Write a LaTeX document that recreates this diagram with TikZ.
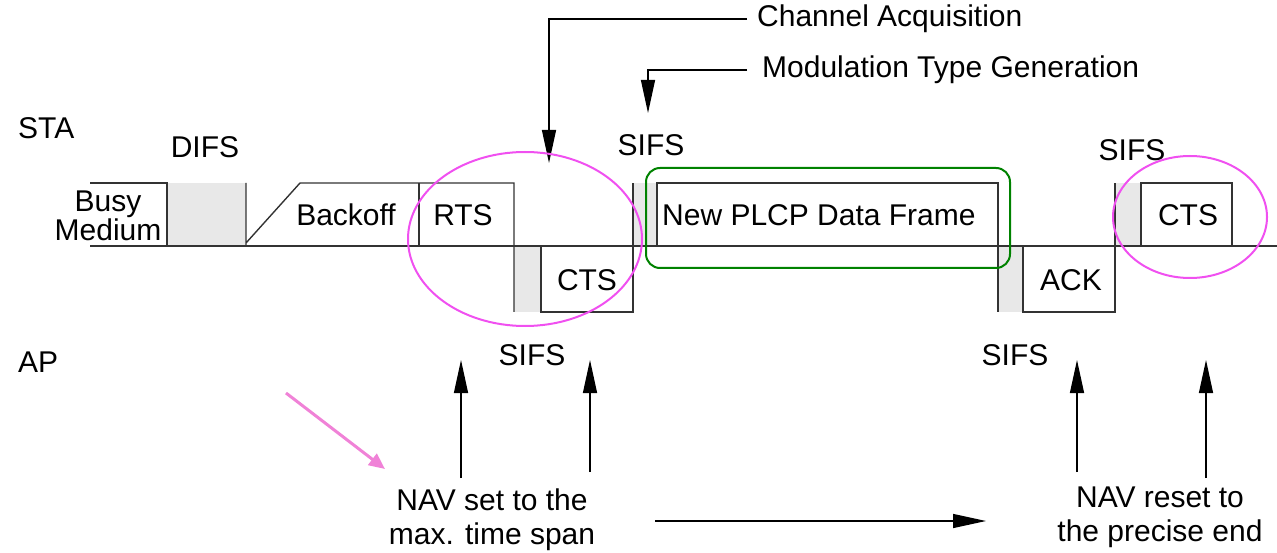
\documentclass[tikz,border=0pt]{standalone}
\usepackage{fontspec}
\setmainfont{Liberation Sans}
\usetikzlibrary{arrows.meta}
\definecolor{sifsgray}{RGB}{232,232,232}
\definecolor{ringpink}{RGB}{240,80,240}
\definecolor{ringgreen}{RGB}{0,130,0}
\definecolor{hintpink}{RGB}{240,130,215}
\tikzset{
    slot/.style={line width=1.4pt,black!80},
    sifsfill/.style={fill=sifsgray},
    lbl/.style={font=\fontsize{30}{34}\selectfont,inner sep=0pt},
    pointer/.style={line width=1.3pt,-{Triangle[length=33pt,width=14pt]}},
}
\begin{document}
\begin{tikzpicture}[x=1pt,y=-1pt]
                    \useasboundingbox (0,0) rectangle (1277,553);
                    \fill[sifsfill] (167,183) rectangle (246,246);
                    \fill[sifsfill] (514,246) rectangle (541,312);
                    \fill[sifsfill] (633,183) rectangle (657,246);
                    \fill[sifsfill] (998,246) rectangle (1023,312);
                    \fill[sifsfill] (1115,183) rectangle (1141,246);
                    \draw[slot] (90,246) -- (1277,246);
                    \draw[slot] (90,183) -- (167,183) -- (167,246);
                    \draw[slot] (246,183) -- (246,246) (246,243) -- (300,183) -- (514,183) -- (514,312);
                    \draw[slot] (419,183) -- (419,246);
                    \draw[slot] (541,246) -- (541,312) -- (633,312) -- (633,183);
                    \draw[slot] (657,246) -- (657,183) -- (998,183) -- (998,312);
                    \draw[slot] (1023,246) -- (1023,312) -- (1115,312) -- (1115,183);
                    \draw[slot] (1141,246) -- (1141,183) -- (1232,183) -- (1232,246);
                    \node[lbl,anchor=west] (sta)    at (18,128)  {STA};
                    \node[lbl,anchor=west] (ap)     at (18,362)  {AP};
                    \node[lbl]             (difs)   at (205,147) {DIFS};
                    \node[lbl,align=center,font=\fontsize{30}{25}\selectfont] (busy) at (108,216) {Busy\\Medium};
                    \node[lbl]             (backoff) at (346,215) {Backoff};
                    \node[lbl]             (rts)    at (463,215) {RTS};
                    \node[lbl]             (ctsap)  at (587,280) {CTS};
                    \node[lbl,anchor=west] (data)   at (662,215) {New PLCP Data Frame};
                    \node[lbl]             (ack)    at (1071,280) {ACK};
                    \node[lbl]             (ctssta) at (1188,215) {CTS};
                    \node[lbl]             (sifsa)  at (651,145) {SIFS};
                    \node[lbl]             (sifsb)  at (1132,150) {SIFS};
                    \node[lbl]             (sifsc)  at (532,355) {SIFS};
                    \node[lbl]             (sifsd)  at (1015,355) {SIFS};
                    \node[lbl,anchor=west] (chan)   at (757,19)  {Channel Acquisition};
                    \node[lbl,anchor=west] (modu)   at (762,70)  {Modulation Type Generation};
                    \node[lbl,align=center] (navset)   at (492,520) {NAV set to the\\max. time span};
                    \node[lbl,align=center] (navreset) at (1160,517) {NAV reset to\\the precise end};
                    \coordinate (chantip) at (549,163);
                    \coordinate (modutip) at (648,113);
                    \draw[pointer] ([xshift=-10pt]chan.west) -| (chantip);
                    \draw[pointer] ([xshift=-15pt]modu.west) -| (modutip);
                    \foreach \x/\y in {461/478,590/472,1077/472,1206/478}
                        \draw[pointer] (\x,\y) -- (\x,360);
                    \coordinate (spanfrom) at (655,521);
                    \coordinate (spanto)   at (986,521);
                    \draw[pointer] (spanfrom) -- (spanto);
                    \draw[ringpink,line width=2pt] (525,239) ellipse [x radius=117,y radius=87];
                    \draw[ringpink,line width=2pt] (1190,217) ellipse [x radius=77,y radius=61];
                    \draw[ringgreen,line width=2pt,rounded corners=14pt] (646,168) rectangle (1010,268);
                    \coordinate (hintfrom) at (286,393);
                    \coordinate (hintto)   at (385,469);
                    \draw[hintpink,line width=3pt,-{Triangle[length=16pt,width=14pt]}] (hintfrom) -- (hintto);
                \end{tikzpicture}
\end{document}
